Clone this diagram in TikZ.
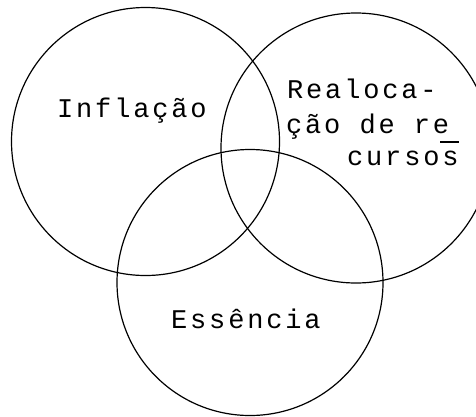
\documentclass[tikz,border=0pt]{standalone}
\usepackage{fontspec}
\newfontfamily\twfont[LetterSpace=10.5]{Liberation Mono}
\begin{document}
\begin{tikzpicture}[x=1pt,y=-1pt,
  venn/.style={circle,draw,line width=1.2pt,inner sep=0pt},
  lbl/.style={font={\twfont\fontsize{27}{32}\selectfont},inner sep=0pt,anchor=base west}]
\useasboundingbox (0,0) rectangle (476,416);
\clip (0,0) rectangle (476,416);
\node[venn,minimum size=268pt] (infl) at (145.5,141.5) {};
\node[venn,minimum size=270pt] (real) at (356,148) {};
\node[venn,minimum size=266pt] (ess) at (250,282.5) {};
\node[lbl] (tinfl) at (57,117) {Inflação};
\node[lbl] (treal1) at (287,98) {Realoca-};
\node[lbl] (treal2) at (286,133) {ção de re};
\node[lbl] (treal3) at (347,165) {cursos};
\node[lbl] (tess) at (171,328) {Essência};
\draw[line width=1.2pt] (440,142) -- (459,142);
\end{tikzpicture}
\end{document}
